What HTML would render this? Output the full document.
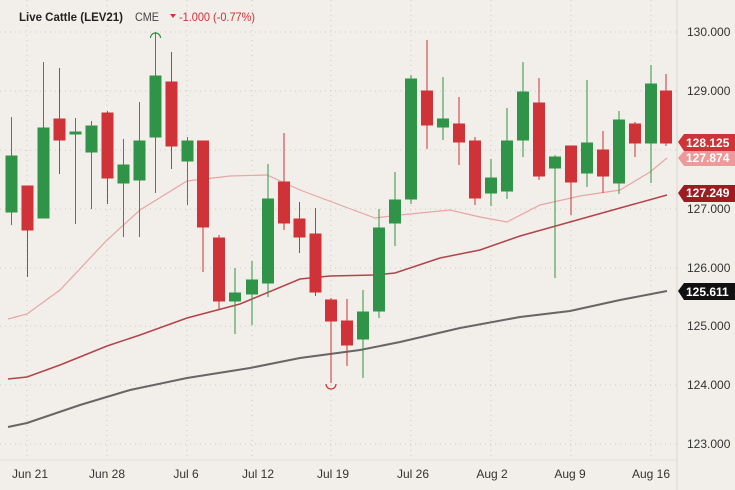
<!DOCTYPE html>
<html><head><meta charset="utf-8"><style>
body{margin:0;background:#f2efea;}
svg{display:block;font-family:"Liberation Sans",sans-serif;}
</style></head><body>
<svg width="735" height="490" viewBox="0 0 735 490" xmlns="http://www.w3.org/2000/svg">
<rect width="735" height="490" fill="#f2efea"/>
<g stroke="#cfcac2" stroke-dasharray="1,4" stroke-width="1">
<line x1="0" x2="677" y1="32" y2="32"/><line x1="0" x2="677" y1="91" y2="91"/><line x1="0" x2="677" y1="150" y2="150"/>
<line x1="0" x2="677" y1="209" y2="209"/><line x1="0" x2="677" y1="268" y2="268"/><line x1="0" x2="677" y1="326" y2="326"/>
<line x1="0" x2="677" y1="385" y2="385"/><line x1="0" x2="677" y1="444" y2="444"/>
<line x1="27" x2="27" y1="0" y2="460"/><line x1="107" x2="107" y1="0" y2="460"/><line x1="187" x2="187" y1="0" y2="460"/>
<line x1="252" x2="252" y1="0" y2="460"/><line x1="331" x2="331" y1="0" y2="460"/><line x1="411" x2="411" y1="0" y2="460"/>
<line x1="491" x2="491" y1="0" y2="460"/><line x1="571" x2="571" y1="0" y2="460"/><line x1="651" x2="651" y1="0" y2="460"/>
</g>
<line x1="677" y1="0" x2="677" y2="490" stroke="#d9d5ce"/>
<line x1="0" y1="460" x2="677" y2="460" stroke="#e2ded7"/>
<polyline fill="none" stroke="#e8a5a5" stroke-width="1.2" points="8,319 27,314 60,290 107,240 140,210 187,181 230,176 267,175 300,190 340,205 375,218 400,215 450,210 480,217 507,222 540,205 580,196 620,190 650,172 667,158"/>
<polyline fill="none" stroke="#b3434a" stroke-width="1.5" points="8,379 27,377 60,365 107,346 140,335 187,318 240,304 300,279 330,276 375,275 395,273 440,258 480,250 520,236 570,222 620,208 667,195"/>
<polyline fill="none" stroke="#666" stroke-width="2" points="8,427 27,423 80,405 130,390 187,378 250,368 300,358 360,350 400,342 460,328 520,317 570,311 620,300 667,291"/>
<g>
<g stroke="#2f9447" fill="#2f9447">
<line x1="11.5" x2="11.5" y1="117" y2="225"/><rect x="6" y="156" width="11" height="56"/>
<line x1="43.5" x2="43.5" y1="62" y2="218"/><rect x="38" y="128" width="11" height="90"/>
<line x1="75.5" x2="75.5" y1="118" y2="224"/><rect x="70" y="132" width="11" height="2"/>
<line x1="91.5" x2="91.5" y1="121" y2="209"/><rect x="86" y="126" width="11" height="26"/>
<line x1="123.5" x2="123.5" y1="139" y2="237"/><rect x="118" y="165" width="11" height="18"/>
<line x1="139.5" x2="139.5" y1="102" y2="237"/><rect x="134" y="141" width="11" height="39"/>
<line x1="155.5" x2="155.5" y1="32" y2="193"/><rect x="150" y="76" width="11" height="61"/>
<line x1="187.5" x2="187.5" y1="137" y2="205"/><rect x="182" y="141" width="11" height="20"/>
<line x1="235" x2="235" y1="268" y2="334"/><rect x="229.5" y="293" width="11" height="8"/>
<line x1="252" x2="252" y1="261" y2="325"/><rect x="246.5" y="280" width="11" height="14"/>
<line x1="268" x2="268" y1="164" y2="297"/><rect x="262.5" y="199" width="11" height="84"/>
<line x1="363" x2="363" y1="290" y2="378"/><rect x="357.5" y="312" width="11" height="27"/>
<line x1="379" x2="379" y1="209" y2="318"/><rect x="373.5" y="228" width="11" height="83"/>
<line x1="395" x2="395" y1="172" y2="246"/><rect x="389.5" y="200" width="11" height="23"/>
<line x1="411" x2="411" y1="75" y2="204"/><rect x="405.5" y="79" width="11" height="120"/>
<line x1="443" x2="443" y1="77" y2="140"/><rect x="437.5" y="119" width="11" height="8"/>
<line x1="491" x2="491" y1="159" y2="206"/><rect x="485.5" y="178" width="11" height="15"/>
<line x1="507" x2="507" y1="108" y2="199"/><rect x="501.5" y="141" width="11" height="50"/>
<line x1="523" x2="523" y1="62" y2="157"/><rect x="517.5" y="92" width="11" height="48"/>
<line x1="555" x2="555" y1="155" y2="278"/><rect x="549.5" y="157" width="11" height="11"/>
<line x1="587" x2="587" y1="80" y2="187"/><rect x="581.5" y="143" width="11" height="30"/>
<line x1="619" x2="619" y1="111" y2="194"/><rect x="613.5" y="120" width="11" height="63"/>
<line x1="651" x2="651" y1="65" y2="183"/><rect x="645.5" y="84" width="11" height="59"/>
</g>
<g stroke="#cf3237" fill="#cf3237">
<line x1="27.5" x2="27.5" y1="186" y2="277"/><rect x="22" y="186" width="11" height="44"/>
<line x1="59.5" x2="59.5" y1="68" y2="174"/><rect x="54" y="119" width="11" height="21"/>
<line x1="107.5" x2="107.5" y1="111" y2="204"/><rect x="102" y="113" width="11" height="65"/>
<line x1="171.5" x2="171.5" y1="52" y2="169"/><rect x="166" y="82" width="11" height="64"/>
<line x1="203" x2="203" y1="141" y2="272"/><rect x="197.5" y="141" width="11" height="86"/>
<line x1="219" x2="219" y1="235" y2="310"/><rect x="213.5" y="238" width="11" height="63"/>
<line x1="284" x2="284" y1="133" y2="230"/><rect x="278.5" y="182" width="11" height="41"/>
<line x1="299.5" x2="299.5" y1="202" y2="253"/><rect x="294" y="219" width="11" height="18"/>
<line x1="315.5" x2="315.5" y1="208" y2="296"/><rect x="310" y="234" width="11" height="58"/>
<line x1="331" x2="331" y1="298" y2="383"/><rect x="325.5" y="300" width="11" height="21"/>
<line x1="347" x2="347" y1="299" y2="366"/><rect x="341.5" y="321" width="11" height="24"/>
<line x1="427" x2="427" y1="40" y2="149"/><rect x="421.5" y="91" width="11" height="34"/>
<line x1="459" x2="459" y1="97" y2="165"/><rect x="453.5" y="124" width="11" height="18"/>
<line x1="475" x2="475" y1="137" y2="205"/><rect x="469.5" y="141" width="11" height="57"/>
<line x1="539" x2="539" y1="78" y2="180"/><rect x="533.5" y="103" width="11" height="73"/>
<line x1="571" x2="571" y1="146" y2="215"/><rect x="565.5" y="146" width="11" height="36"/>
<line x1="603" x2="603" y1="131" y2="193"/><rect x="597.5" y="150" width="11" height="26"/>
<line x1="635" x2="635" y1="122" y2="157"/><rect x="629.5" y="124" width="11" height="19"/>
<line x1="666" x2="666" y1="74" y2="146"/><rect x="660.5" y="91" width="11" height="52"/>
</g>
<path d="M150.5,38 A5,5 0 0 1 160.5,38" fill="none" stroke="#2f9447" stroke-width="1.2"/>
<path d="M326,384 A5,5 0 0 0 336,384" fill="none" stroke="#cf3237" stroke-width="1.2"/>
</g>
<text x="19" y="21" font-size="12" font-weight="bold" fill="#222" textLength="104" lengthAdjust="spacingAndGlyphs">Live Cattle (LEV21)</text>
<text x="135" y="21" font-size="12" fill="#444" textLength="24" lengthAdjust="spacingAndGlyphs">CME</text>
<path d="M170,14 L176,14 L173,18 Z" fill="#cf3237"/>
<text x="179" y="21" font-size="12" fill="#cf3237" textLength="76" lengthAdjust="spacingAndGlyphs">-1.000 (-0.77%)</text>
<g font-size="12" fill="#333">
<text x="687" y="36">130.000</text><text x="687" y="95">129.000</text><text x="687" y="213">127.000</text>
<text x="687" y="272">126.000</text><text x="687" y="330">125.000</text><text x="687" y="389">124.000</text><text x="687" y="448">123.000</text>
</g>
<path d="M678,142 L684,134 L735,134 L735,151 L684,151 Z" fill="#cf3237"/>
<text x="686" y="147" font-size="12" font-weight="bold" fill="#fff">128.125</text>
<path d="M678,158 L684,151 L735,151 L735,166 L684,166 Z" fill="#ec9a9a"/>
<text x="686" y="162" font-size="12" font-weight="bold" fill="#fff">127.874</text>
<path d="M678,193 L684,185 L735,185 L735,202 L684,202 Z" fill="#9c1c22"/>
<text x="686" y="197" font-size="12" font-weight="bold" fill="#fff">127.249</text>
<path d="M678,291 L684,283 L735,283 L735,300 L684,300 Z" fill="#111"/>
<text x="686" y="296" font-size="12" font-weight="bold" fill="#fff">125.611</text>
<g font-size="12" fill="#333" text-anchor="middle">
<text x="30" y="478">Jun 21</text><text x="107" y="478">Jun 28</text><text x="186" y="478">Jul 6</text>
<text x="258" y="478">Jul 12</text><text x="333" y="478">Jul 19</text><text x="413" y="478">Jul 26</text>
<text x="492" y="478">Aug 2</text><text x="570" y="478">Aug 9</text><text x="651" y="478">Aug 16</text>
</g>
</svg>
</body></html>
